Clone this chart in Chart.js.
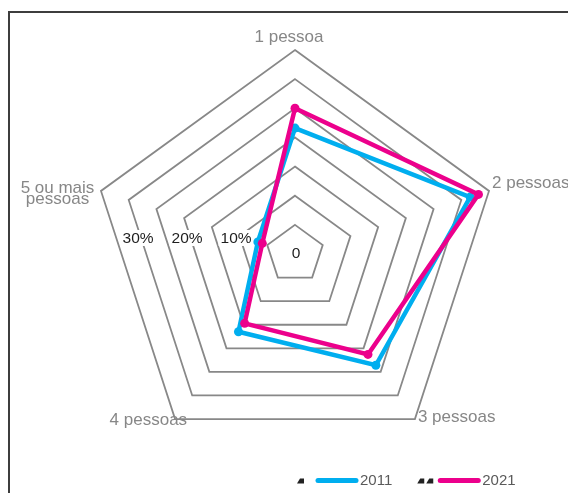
<!DOCTYPE html>
<html>
<head>
<meta charset="utf-8">
<script src="https://cdn.jsdelivr.net/npm/chart.js@4.4.1/dist/chart.umd.min.js"></script>
<style>
  html, body { margin: 0; padding: 0; background: #fff; overflow: hidden; }
  #wrap { position: relative; width: 568px; height: 493px; }
  #frame { position: absolute; left: 8px; top: 11px; width: 620px; height: 540px;
           border-left: 2px solid #3d3d3d; border-top: 2px solid #3d3d3d; }
  #chart { position: absolute; left: 0; top: 0; }
</style>
</head>
<body>
<div id="wrap">
  <div id="frame"></div>
  <canvas id="chart" width="568" height="493"></canvas>
</div>
<script>
// ─── DATA ───
const categories = ['1 pessoa', '2 pessoas', '3 pessoas', '4 pessoas', ['5 ou mais', 'pessoas']];
const years = ['2011', '2021'];
const values2011 = [21.6, 31.6, 23.6, 16.5, 6.7];
const values2021 = [25.0, 33.1, 21.3, 14.7, 5.9];
const tickValues = [0, 10, 20, 30];
const tickLabels = ['0', '10%', '20%', '30%'];
const colors = ['#00AEEF', '#EC008C'];

const FONT = '"Liberation Sans", Arial, sans-serif';

// where each category label sits relative to its outer vertex
const labelPlacement = [
    { dx: -6, dy: -8, align: 'center' },
    { dx: 3, dy: -3, align: 'left' },
    { dx: 3, dy: 3, align: 'left' },
    { dx: 12, dy: 6, align: 'right' },
    { dx: -43.5, dy: 2, align: 'center' }
];

// tick labels sit on the left, with a white box over the grid
const tickLabelsPlugin = {
    id: 'tickLabels',
    beforeDatasetsDraw(chart) {
        const r = chart.scales.r;
        const ctx = chart.ctx;
        ctx.save();
        ctx.font = '15.5px ' + FONT;
        ctx.textAlign = 'center';
        ctx.textBaseline = 'alphabetic';
        tickValues.forEach((v, i) => {
            const d = r.getDistanceFromCenterForValue(v);
            const text = tickLabels[i];
            const w = ctx.measureText(text).width;
            let x, y;
            if (v === 0) {
                x = r.xCenter + 1;
                y = r.yCenter + 4;
            } else {
                x = r.xCenter - (0.84 * d + 10);
                y = r.yCenter - 11;
                ctx.fillStyle = '#ffffff';
                ctx.fillRect(x - w / 2 - 2, y - 13, w + 4, 16);
            }
            ctx.fillStyle = '#1e1e1e';
            ctx.fillText(text, x, y);
        });
        ctx.restore();
    }
};

// category labels + legend
const labelsAndLegendPlugin = {
    id: 'labelsAndLegend',
    afterDraw(chart) {
        const r = chart.scales.r;
        const ctx = chart.ctx;
        ctx.save();

        // 1. Category labels
        ctx.font = '17px ' + FONT;
        ctx.fillStyle = '#878787';
        ctx.textBaseline = 'alphabetic';
        categories.forEach((label, i) => {
            const p = r.getPointPosition(i, r.drawingArea);
            const pl = labelPlacement[i];
            const lines = Array.isArray(label) ? label : [label];
            ctx.textAlign = pl.align;
            lines.forEach((line, k) => {
                ctx.fillText(line, p.x + pl.dx, p.y + pl.dy + k * 11);
            });
        });

        // 2. Legend
        const legendY = 480.5;
        const lineLen = 38;
        const glyphs = [[-21], [-23, -14]];
        let x = 318;
        ctx.font = '15px ' + FONT;
        ctx.textAlign = 'left';
        ctx.textBaseline = 'middle';
        chart.data.datasets.forEach((ds, i) => {
            // small dark marks before each key
            ctx.fillStyle = '#222';
            glyphs[i].forEach(gx => {
                ctx.beginPath();
                ctx.moveTo(x + gx, legendY + 3);
                ctx.lineTo(x + gx + 3, legendY - 2);
                ctx.lineTo(x + gx + 7, legendY - 2);
                ctx.lineTo(x + gx + 7, legendY + 3);
                ctx.closePath();
                ctx.fill();
            });
            ctx.strokeStyle = ds.borderColor;
            ctx.lineWidth = 5;
            ctx.lineCap = 'round';
            ctx.beginPath();
            ctx.moveTo(x, legendY);
            ctx.lineTo(x + lineLen, legendY);
            ctx.stroke();
            ctx.fillStyle = '#5a5a5a';
            ctx.fillText(ds.label, x + lineLen + 4, legendY);
            x += lineLen + 4 + ctx.measureText(ds.label).width + 48;
        });
        ctx.restore();
    }
};

const seriesValues = [values2011, values2021];

new Chart(document.getElementById('chart'), {
    type: 'radar',
    data: {
        labels: categories,
        datasets: years.map((y, i) => ({
            label: y,
            data: seriesValues[i],
            borderColor: colors[i],
            backgroundColor: colors[i],
            pointBackgroundColor: colors[i],
            pointBorderColor: colors[i],
            borderWidth: 4.5,
            pointRadius: 4.5,
            pointBorderWidth: 0,
            fill: false,
            order: years.length - i
        }))
    },
    options: {
        responsive: false,
        animation: false,
        layout: { padding: { left: 91, right: 69, top: 50, bottom: 35 } },
        plugins: {
            legend: { display: false },
            tooltip: { enabled: false }
        },
        scales: {
            r: {
                min: 0,
                max: 35,
                ticks: { stepSize: 5, display: false },
                grid: { color: '#888888', lineWidth: 1.8 },
                angleLines: { display: false },
                pointLabels: { display: false }
            }
        }
    },
    plugins: [tickLabelsPlugin, labelsAndLegendPlugin]
});
</script>
</body>
</html>
